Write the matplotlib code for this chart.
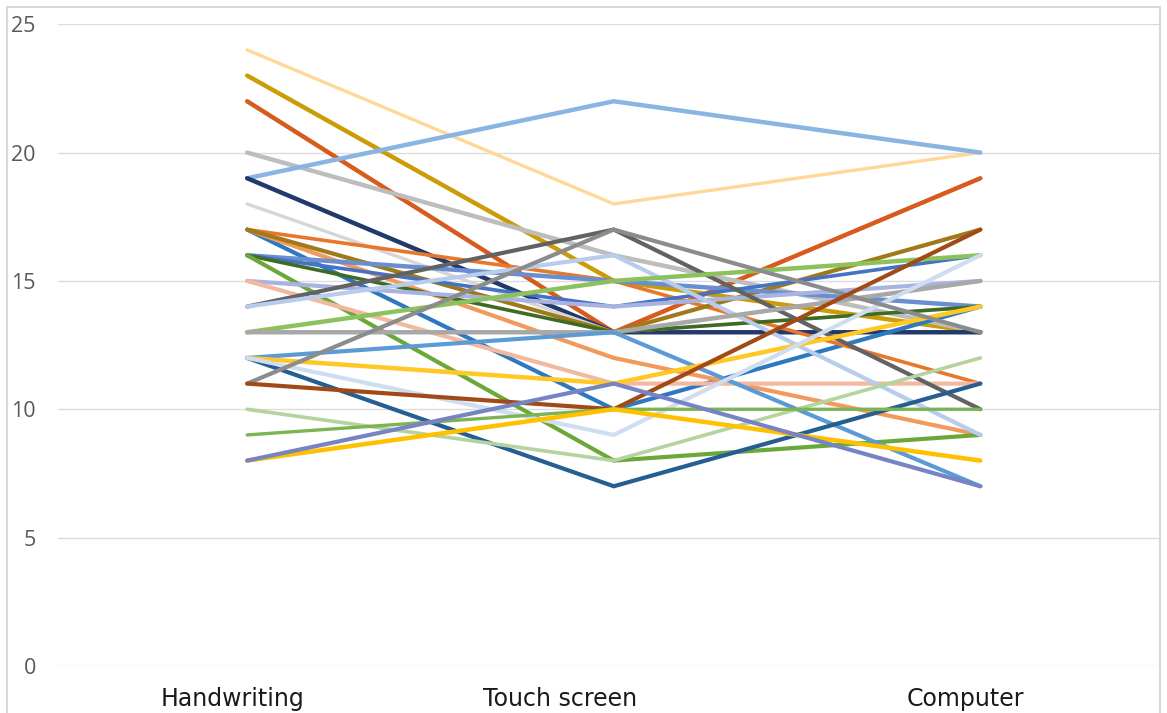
import matplotlib.pyplot as plt
from matplotlib.patches import Rectangle

categories = ["Handwriting", "Touch screen", "Computer"]

# one list per respondent: [handwriting, touch screen, computer]
peach = [24, 18, 20]
gold = [23, 15, 13]
dark_orange = [22, 13, 19]
light_gray = [20, 16, 13]
sky_blue = [19, 22, 20]
navy = [19, 13, 13]
pale_gray = [18, 13, 14]
blue = [17, 10, 14]
light_orange = [17, 12, 9]
mid_orange = [17, 15, 11]
olive = [17, 13, 17]
periwinkle = [16, 15, 14]
royal_blue = [16, 14, 16]
dark_green = [16, 13, 14]
green = [16, 8, 9]
lavender = [15, 14, 15]
salmon = [15, 11, 11]
dark_gray = [14, 17, 10]
pale_blue = [14, 16, 9]
light_green = [13, 15, 16]
gray = [13, 13, 15]
steel_blue = [12, 13, 7]
yellow = [12, 11, 14]
deep_blue = [12, 7, 11]
ice_blue = [12, 9, 16]
mid_gray = [11, 17, 13]
brown = [11, 10, 17]
sage = [10, 8, 12]
grass = [9, 10, 10]
amber = [8, 10, 8]
purple = [8, 11, 7]

series = [
    (peach, "#FFD899", 2.4),
    (gold, "#CC9C06", 3.2),
    (dark_orange, "#D65B1C", 3.2),
    (light_gray, "#BDBDBD", 3.2),
    (sky_blue, "#8AB4E2", 3.2),
    (navy, "#22396B", 3.2),
    (pale_gray, "#D6D6D6", 2.4),
    (blue, "#2E78C0", 3.0),
    (light_orange, "#F19A5C", 3.0),
    (mid_orange, "#E8772A", 2.6),
    (olive, "#9E7A18", 3.0),
    (periwinkle, "#6A8FD0", 3.2),
    (royal_blue, "#4472C4", 2.6),
    (dark_green, "#3E6B24", 2.6),
    (green, "#6AA83A", 3.0),
    (lavender, "#A9B3E0", 3.0),
    (salmon, "#F3B8A0", 3.0),
    (dark_gray, "#626262", 3.0),
    (pale_blue, "#B7CDEB", 3.0),
    (light_green, "#8CC25E", 3.2),
    (gray, "#A8A8A8", 3.2),
    (steel_blue, "#5B9BD5", 3.0),
    (yellow, "#FFC824", 3.2),
    (deep_blue, "#255E91", 3.0),
    (ice_blue, "#CFDDF0", 3.0),
    (mid_gray, "#8C8C8C", 3.0),
    (brown, "#A24A17", 3.0),
    (sage, "#B5D39E", 2.6),
    (grass, "#7CB454", 2.4),
    (amber, "#FFC000", 3.2),
    (purple, "#7784C4", 3.0),
]

fig = plt.figure(figsize=(11.67, 7.13), dpi=100)
ax = fig.add_axes([0.0497, 0.066, 0.9443, 0.9])

x = list(range(len(categories)))
for values, color, lw in series:
    ax.plot(x, values, color=color, lw=lw, solid_capstyle="round", solid_joinstyle="miter")

ax.set_xlim(-0.516, 2.49)
ax.set_ylim(0, 25)
ax.set_yticks([0, 5, 10, 15, 20, 25])
ax.yaxis.grid(True, color="#DCDCDC", lw=1)
ax.set_axisbelow(True)
for s in ax.spines.values():
    s.set_visible(False)
ax.tick_params(axis="both", length=0)
ax.tick_params(axis="y", labelsize=15.5, labelcolor="#595959", pad=16)
for lab in ax.get_yticklabels():
    lab.set_fontfamily("Open Sans")

# category labels sit a bit left of the data points in the original
ax.set_xticks([-0.04, 0.854, 1.96])
ax.set_xticklabels(categories, fontsize=17, color="#1A1A1A", family=["Liberation Sans Narrow", "DejaVu Sans"])
ax.tick_params(axis="x", pad=15)

fig.patches.append(Rectangle((0.006, -0.01), 0.988, 1.0, transform=fig.transFigure,
                             fill=False, edgecolor="#D9D9D9", lw=1.5))

fig.savefig("out.png", dpi=100)
